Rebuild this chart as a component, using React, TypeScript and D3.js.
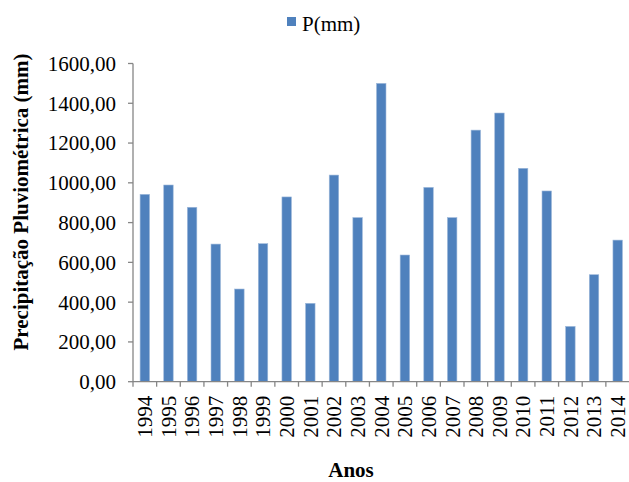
import React from "react";
import * as d3 from "d3";

// Annual rainfall (mm) per year
const years: string[] = [
  "1994", "1995", "1996", "1997", "1998", "1999", "2000", "2001", "2002", "2003", "2004",
  "2005", "2006", "2007", "2008", "2009", "2010", "2011", "2012", "2013", "2014",
];
const rainfall: number[] = [
  942, 989, 877, 692, 466, 694, 929, 394, 1039, 825, 1500,
  637, 977, 825, 1265, 1351, 1073, 959, 278, 538, 712,
];
const yTicks: number[] = [0, 200, 400, 600, 800, 1000, 1200, 1400, 1600];
const seriesName = "P(mm)";
const xTitle = "Anos";
const yTitle = "Precipitação Pluviométrica (mm)";

const W = 629;
const H = 482;
const left = 133;
const right = 629.5;
const top = 63.5;
const bottom = 381.7;
const axisColor = "#868686";
const barColor = "#4F81BD";
const font = "Liberation Serif, DejaVu Serif, serif";

const fmt = (v: number) => v.toFixed(2).replace(".", ",");

export default function App() {
  const x = d3.scaleBand<string>().domain(years).range([left, right]).padding(0);
  const y = d3.scaleLinear().domain([0, 1600]).range([bottom, top]);
  const bw = x.bandwidth();
  const barW = bw * 0.4;
  const txt = { fontFamily: font };

  return (
    <svg
      width={W}
      height={H}
      style={{ position: "absolute", left: 0, top: 0, background: "#fff", fontFamily: font }}
    >
      {/* legend */}
      <rect x={287} y={17} width={9} height={9} fill={barColor} />
      <text x={302} y={31} fontSize={21} fill="#000" style={txt}>{seriesName}</text>

      {/* bars */}
      {years.map((yr, i) => (
        <rect
          key={yr}
          x={(x(yr) as number) + (bw - barW) / 2}
          y={y(rainfall[i])}
          width={barW}
          height={bottom - y(rainfall[i])}
          fill={barColor}
          stroke="#9db8da"
          strokeWidth={0.6}
        />
      ))}

      {/* y axis */}
      <line x1={left} x2={left} y1={top} y2={bottom} stroke={axisColor} strokeWidth={1.3} />
      {yTicks.map((t) => (
        <g key={t}>
          <line x1={left - 5} x2={left} y1={y(t)} y2={y(t)} stroke={axisColor} strokeWidth={1.3} />
          <text x={left - 17} y={y(t)} dy="0.35em" textAnchor="end" fontSize={21} fill="#000" style={txt}>
            {fmt(t)}
          </text>
        </g>
      ))}

      {/* x axis */}
      <line x1={left} x2={right} y1={bottom} y2={bottom} stroke={axisColor} strokeWidth={1.3} />
      {years.map((yr, i) => (
        <line
          key={"t" + yr}
          x1={left + i * bw}
          x2={left + i * bw}
          y1={bottom}
          y2={bottom + 5}
          stroke={axisColor}
          strokeWidth={1.3}
        />
      ))}
      {years.map((yr) => {
        const cx = (x(yr) as number) + bw / 2;
        const ty = bottom + 14;
        return (
          <text
            key={"l" + yr}
            x={cx}
            y={ty}
            dy="0.35em"
            transform={`rotate(-90 ${cx} ${ty})`}
            textAnchor="end"
            fontSize={21}
            fill="#000"
            style={txt}
          >
            {yr}
          </text>
        );
      })}

      {/* axis titles */}
      <text x={351} y={477} textAnchor="middle" fontSize={21} fontWeight="bold" fill="#000" style={txt}>
        {xTitle}
      </text>
      <text
        x={20.5}
        y={202}
        dy="0.35em"
        transform="rotate(-90 20.5 202)"
        textAnchor="middle"
        fontSize={21}
        fontWeight="bold"
        fill="#000"
        style={txt}
      >
        {yTitle}
      </text>
    </svg>
  );
}
